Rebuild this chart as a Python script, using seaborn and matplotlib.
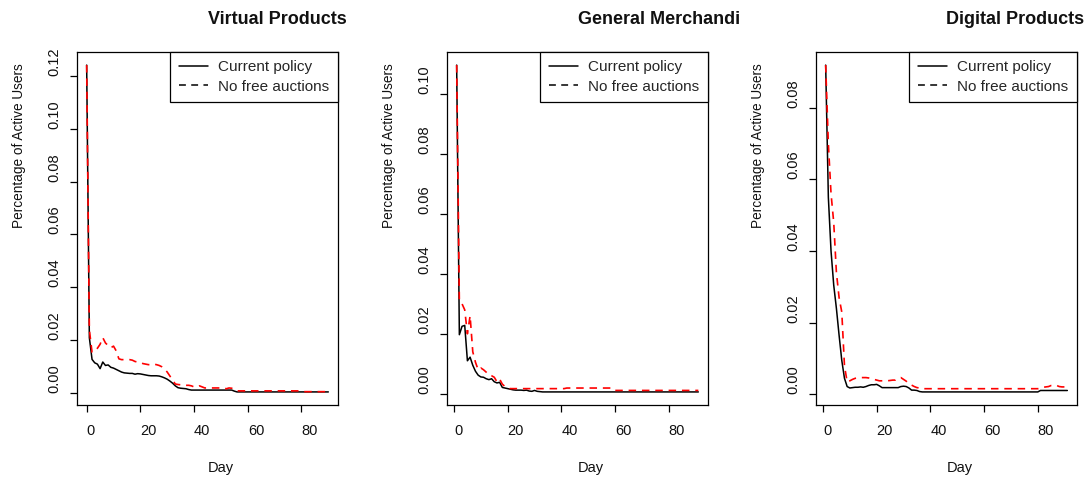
import numpy as np
import pandas as pd
import matplotlib
matplotlib.use("Agg")
import matplotlib.pyplot as plt
from matplotlib.lines import Line2D
import seaborn as sns

# ---- data -------------------------------------------------------------
categories = ["Virtual Products", "General Merchandi", "Digital Products"]
series_names = ["Current policy", "No free auctions"]

days_virtual = np.arange(0, 91)
days_general = np.arange(1, 92)
days_digital = np.arange(1, 92)

virtual_current = (
    [0.124, 0.021, 0.0128, 0.0115, 0.0110, 0.0093, 0.0118, 0.0105, 0.0107, 0.0098,
     0.0095, 0.0090, 0.0085, 0.0080, 0.0077, 0.0076, 0.0075, 0.0075, 0.0072, 0.0074,
     0.0073, 0.0071, 0.0069, 0.0067, 0.0066, 0.0066, 0.0066, 0.0065, 0.0062, 0.0058,
     0.0053, 0.0046, 0.0038, 0.0028, 0.0021, 0.0019, 0.0018, 0.0017, 0.0014, 0.0012]
    + [0.0012] * 15
    + [0.0008]
    + [0.0005] * 35
)
virtual_nofree = (
    [0.124, 0.024, 0.0155, 0.0160, 0.0170, 0.0185, 0.0210, 0.0190, 0.0180, 0.0172,
     0.0178, 0.0160, 0.0130, 0.0127, 0.0127, 0.0127, 0.0127, 0.0125, 0.0120, 0.0118,
     0.0116, 0.0112, 0.0110, 0.0108, 0.0108, 0.0110, 0.0108, 0.0105, 0.0100, 0.0092,
     0.0080, 0.0065, 0.0050, 0.0035, 0.0033, 0.0032, 0.0031, 0.0030, 0.0030, 0.0028,
     0.0024, 0.0024, 0.0028, 0.0024]
    + [0.0020] * 8
    + [0.0017, 0.0020, 0.0019, 0.0015]
    + [0.0009] * 25
    + [0.0006] * 10
)

general_current = (
    [0.1097, 0.0197, 0.0225, 0.0228, 0.0110, 0.0122, 0.0095, 0.0075, 0.0062, 0.0056,
     0.0055, 0.0050, 0.0047, 0.0050, 0.0040, 0.0036, 0.0038, 0.0021, 0.0019, 0.0017,
     0.0015, 0.0013, 0.0012, 0.0012, 0.0012, 0.0011, 0.0012, 0.0009, 0.0008, 0.0011,
     0.0008, 0.0007]
    + [0.0006] * 59
)
general_nofree = (
    [0.1097, 0.0310, 0.0300, 0.0280, 0.0200, 0.0260, 0.0140, 0.0105, 0.0080, 0.0086,
     0.0080, 0.0072, 0.0063, 0.0060, 0.0055, 0.0040, 0.0049, 0.0032, 0.0024, 0.0020]
    + [0.0017] * 21
    + [0.0019] * 18
    + [0.0011] * 32
)

digital_current = (
    [0.0919, 0.0550, 0.0400, 0.0305, 0.0240, 0.0165, 0.0095, 0.0045, 0.0022, 0.0018,
     0.0019, 0.0020, 0.0020, 0.0021, 0.0020, 0.0022, 0.0025, 0.0027, 0.0027, 0.0028,
     0.0024]
    + [0.0019] * 7
    + [0.0022, 0.0023, 0.0022, 0.0018, 0.0012, 0.0012, 0.0011, 0.0008]
    + [0.0007] * 44
    + [0.0011] * 11
)
digital_nofree = (
    [0.0919, 0.0700, 0.0560, 0.0480, 0.0340, 0.0270, 0.0230, 0.0080, 0.0035, 0.0038,
     0.0042, 0.0045, 0.0046, 0.0047, 0.0047, 0.0047, 0.0046, 0.0044, 0.0042, 0.0040,
     0.0038, 0.0038, 0.0038, 0.0038, 0.0039, 0.0040, 0.0040, 0.0045, 0.0047, 0.0042,
     0.0037, 0.0030, 0.0026, 0.0022, 0.0019, 0.0018]
    + [0.0016] * 44
    + [0.0018, 0.0020, 0.0021, 0.0022, 0.0025, 0.0026, 0.0025, 0.0022, 0.0021, 0.0021,
       0.0021]
)

x_ticks = [0, 20, 40, 60, 80]
y_ticks_virtual = [0.00, 0.02, 0.04, 0.06, 0.08, 0.10, 0.12]
y_ticks_general = [0.00, 0.02, 0.04, 0.06, 0.08, 0.10]
y_ticks_digital = [0.00, 0.02, 0.04, 0.06, 0.08]

panels = [
    (categories[0], days_virtual, virtual_current, virtual_nofree, y_ticks_virtual),
    (categories[1], days_general, general_current, general_nofree, y_ticks_general),
    (categories[2], days_digital, digital_current, digital_nofree, y_ticks_digital),
]

# ---- style -------------------------------------------------------------
sns.set_theme(style="white")
plt.rcParams["font.family"] = ["Liberation Sans", "DejaVu Sans"]
plt.rcParams["axes.edgecolor"] = "black"
plt.rcParams["axes.linewidth"] = 0.9

W, H = 1088, 479
fig = plt.figure(figsize=(W / 100, H / 100), dpi=100)

box_lefts = [77, 447, 816]
box_w, box_top, box_bottom = 261, 52, 405
dash = (0, (4.5, 3.5))

for (title, days, cur, nofree, yt), left in zip(panels, box_lefts):
    ax = fig.add_axes([left / W, 1 - box_bottom / H, box_w / W, (box_bottom - box_top) / H])
    df = pd.DataFrame({"Day": days, "cur": cur, "nofree": nofree})
    sns.lineplot(data=df, x="Day", y="cur", ax=ax, color="black", lw=1.1,
                 errorbar=None)
    sns.lineplot(data=df, x="Day", y="nofree", ax=ax, color="#ff0000", lw=1.2,
                 linestyle=dash, errorbar=None)
    ax.margins(x=0.04, y=0.04)

    ax.set_xticks(x_ticks)
    ax.set_xticklabels([str(v) for v in x_ticks])
    ax.set_yticks(yt)
    ax.set_yticklabels([f"{v:.2f}" for v in yt])
    ax.tick_params(axis="both", direction="out", length=5, width=0.9,
                   color="black", labelsize=10.5, labelcolor="#111111",
                   left=True, bottom=True)
    ax.tick_params(axis="x", pad=9)
    ax.tick_params(axis="y", pad=6, labelrotation=90)
    for t in ax.get_xticklabels():
        t.set_ha("left")
    for t in ax.get_yticklabels():
        t.set_va("bottom")
        t.set_ha("right")

    ax.set_xlabel("Day", fontsize=10.5, color="#111111")
    ax.xaxis.label.set_ha("left")
    ax.xaxis.label.set_va("center")
    ax.xaxis.set_label_coords(0.5, -(468 - box_bottom) / (box_bottom - box_top))

    ax.set_ylabel("Percentage of Active Users", fontsize=9.8, color="#111111")
    ax.yaxis.label.set_ha("left")
    ax.yaxis.label.set_va("center")
    ax.yaxis.label.set_rotation_mode("anchor")
    ax.yaxis.set_label_coords(-58 / box_w, 0.5)

    ax.text(0.5, 1 + (box_top - 20) / (box_bottom - box_top), title,
            transform=ax.transAxes, ha="left", va="center",
            fontsize=13, fontweight="bold", color="#111111")

    handles = [
        Line2D([], [], color="black", lw=1.1),
        Line2D([], [], color="black", lw=1.1, linestyle=dash),
    ]
    leg = ax.legend(handles, series_names, loc="upper right",
                    bbox_to_anchor=(1, 1), borderaxespad=0, fontsize=11,
                    frameon=True, fancybox=False, framealpha=1,
                    edgecolor="black", handlelength=1.9, handletextpad=0.7,
                    borderpad=0.55, labelspacing=0.35)
    leg.get_frame().set_linewidth(0.9)
    for s in ax.spines.values():
        s.set_visible(True)
        s.set_color("black")

fig.savefig("out.png", dpi=100, facecolor="white")
